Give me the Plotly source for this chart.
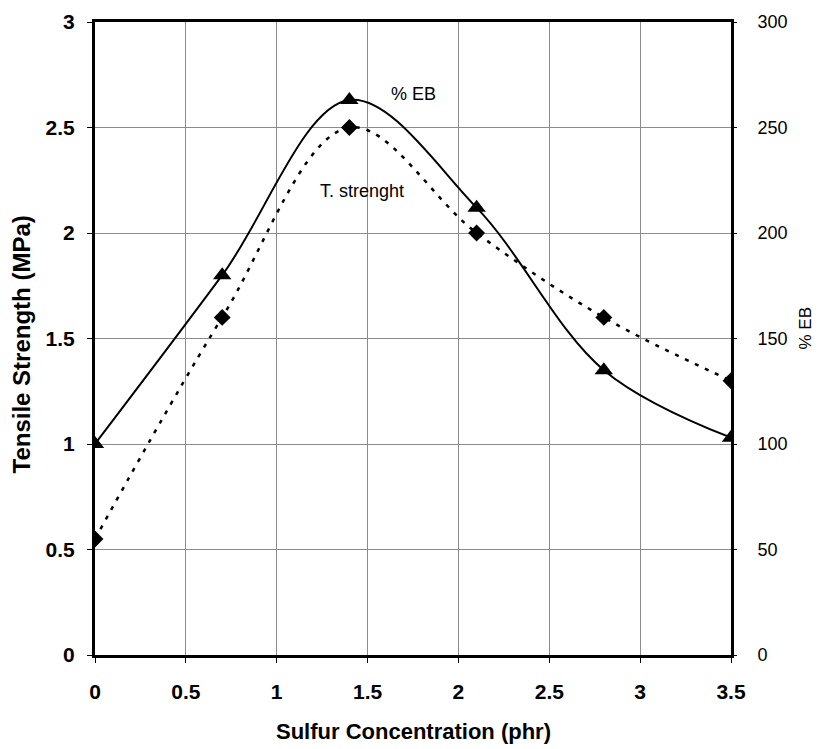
import plotly.graph_objects as go

sulfur = [0, 0.7, 1.4, 2.1, 2.8, 3.5]
tensile = [0.55, 1.6, 2.5, 2.0, 1.6, 1.3]
eb = [100, 180, 263, 212, 135, 103]

x_ticks = [0, 0.5, 1, 1.5, 2, 2.5, 3, 3.5]
x_labels = ["0", "0.5", "1", "1.5", "2", "2.5", "3", "3.5"]
y_ticks = [0, 0.5, 1, 1.5, 2, 2.5, 3]
y_labels = ["0", "0.5", "1", "1.5", "2", "2.5", "3"]
y2_ticks = [0, 50, 100, 150, 200, 250, 300]

font_family = "Liberation Sans, Arial, sans-serif"

fig = go.Figure()
fig.add_trace(go.Scatter(
    x=sulfur, y=tensile, mode="lines+markers", name="T. strenght",
    line=dict(color="black", width=2.5, dash="4px,7px", shape="spline", smoothing=1),
    marker=dict(symbol="diamond", size=13, color="black"),
    yaxis="y"))
fig.add_trace(go.Scatter(
    x=sulfur, y=eb, mode="lines+markers", name="% EB",
    line=dict(color="black", width=2, shape="spline", smoothing=1),
    marker=dict(symbol="triangle-up", size=16, color="black"),
    yaxis="y2"))

fig.update_layout(
    width=826, height=741,
    margin=dict(l=87, r=103, t=14, b=94, autoexpand=False),
    paper_bgcolor="white", plot_bgcolor="white",
    showlegend=False,
    font=dict(family=font_family, color="black"),
    xaxis=dict(
        range=[0, 3.5], tickvals=x_ticks, ticktext=x_labels,
        showgrid=True, gridcolor="#8c8c8c", gridwidth=1,
        showline=True, linecolor="black", linewidth=3, mirror=True,
        ticks="outside", ticklen=5, tickcolor="black",
        tickfont=dict(size=21, family=font_family, weight="bold"),
        ticklabelstandoff=11, automargin=False,
        zeroline=False),
    yaxis=dict(
        range=[0, 3], tickvals=y_ticks, ticktext=y_labels,
        showgrid=True, gridcolor="#8c8c8c", gridwidth=1,
        showline=True, linecolor="black", linewidth=3, mirror=True,
        ticks="outside", ticklen=5, tickcolor="black",
        tickfont=dict(size=21, family=font_family, weight="bold"),
        ticklabelstandoff=8, automargin=False,
        zeroline=False),
    yaxis2=dict(
        range=[0, 300], tickvals=y2_ticks, overlaying="y", side="right",
        showgrid=False, showline=False,
        ticks="outside", ticklen=5, tickcolor="black",
        tickfont=dict(size=18, family=font_family),
        ticklabelstandoff=17, automargin=False,
        zeroline=False),
    annotations=[
        dict(x=0.5, y=0, xref="paper", yref="paper", xanchor="center", yanchor="middle",
             yshift=-76,
             text="<b>Sulfur Concentration (phr)</b>", showarrow=False,
             font=dict(size=22, family=font_family)),
        dict(x=0, y=0.5, xref="paper", yref="paper", xanchor="center", yanchor="middle",
             xshift=-74, yshift=-6,
             text="<b>Tensile Strength (MPa)</b>", textangle=-90, showarrow=False,
             font=dict(size=24, family=font_family)),
        dict(x=1, y=0.5, xref="paper", yref="paper", xanchor="center", yanchor="middle",
             xshift=74, yshift=10,
             text="% EB", textangle=-90, showarrow=False,
             font=dict(size=17, family=font_family)),
        dict(x=1.75, y=2.66, xref="x", yref="y", text="% EB", showarrow=False,
             font=dict(size=18, family=font_family)),
        dict(x=1.47, y=2.20, xref="x", yref="y", text="T. strenght", showarrow=False,
             font=dict(size=18, family=font_family)),
    ],
)

fig.write_html("out.html")
